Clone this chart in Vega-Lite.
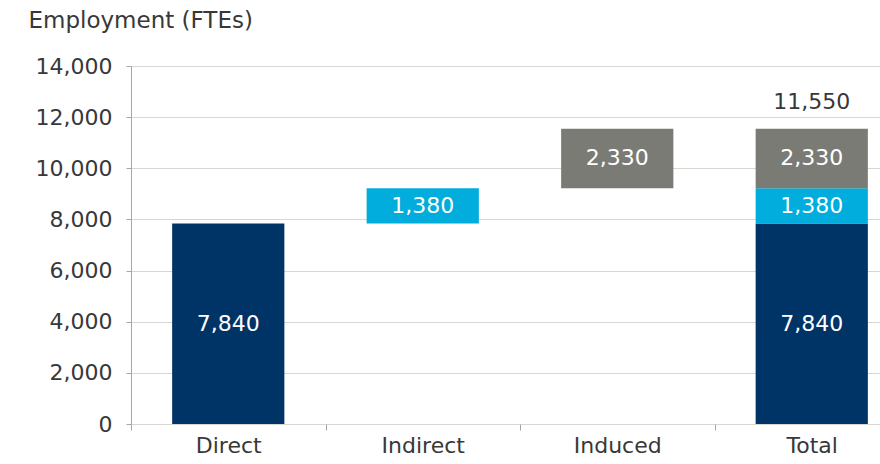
{
  "$schema": "https://vega.github.io/schema/vega-lite/v6.json",
  "width": 737,
  "height": 358,
  "autosize": {"type": "none"},
  "padding": {"left": 131, "top": 66, "right": 12, "bottom": 40},
  "background": "white",
  "config": {"view": {"stroke": null}, "font": "DejaVu Sans"},
  "data": {
    "values": [
      {"category": "Direct", "segment": "Direct", "start": 0, "end": 7840, "value": 7840},
      {"category": "Indirect", "segment": "Indirect", "start": 7840, "end": 9220, "value": 1380},
      {"category": "Induced", "segment": "Induced", "start": 9220, "end": 11550, "value": 2330},
      {"category": "Total", "segment": "Direct", "start": 0, "end": 7840, "value": 7840},
      {"category": "Total", "segment": "Indirect", "start": 7840, "end": 9220, "value": 1380},
      {"category": "Total", "segment": "Induced", "start": 9220, "end": 11550, "value": 2330}
    ]
  },
  "encoding": {
    "x": {
      "field": "category",
      "type": "nominal",
      "sort": null,
      "scale": {"domain": ["Direct", "Indirect", "Induced", "Total"], "range": [0, 778], "paddingInner": 0, "paddingOuter": 0},
      "axis": {
        "title": null,
        "labelAngle": 0,
        "domain": false,
        "tickBand": "extent",
        "ticks": true,
        "tickColor": "#a6a6a6",
        "tickSize": 6,
        "labelFontSize": 22,
        "labelColor": "#383838",
        "labelPadding": 5,
        "grid": false
      }
    }
  },
  "layer": [
    {
      "mark": {"type": "bar", "width": {"band": 0.577}},
      "encoding": {
        "y": {
          "field": "start",
          "type": "quantitative",
          "scale": {"domain": [0, 14000], "nice": false},
          "axis": {
            "values": [0, 2000, 4000, 6000, 8000, 10000, 12000, 14000],
            "format": ",.0f",
            "domain": true,
            "domainColor": "#a6a6a6",
            "tickColor": "#a6a6a6",
            "tickSize": 5,
            "gridColor": "#d9d5d0",
            "labelFontSize": 22,
            "labelColor": "#383838",
            "labelPadding": 14,
            "title": "Employment (FTEs)",
            "titleAngle": 0,
            "titleX": -103,
            "titleY": -46,
            "titleAlign": "left",
            "titleBaseline": "middle",
            "titleFontWeight": "normal",
            "titleFontSize": 23,
            "titleColor": "#383838"
          }
        },
        "y2": {"field": "end"},
        "color": {
          "field": "segment",
          "type": "nominal",
          "scale": {"domain": ["Direct", "Indirect", "Induced"], "range": ["#003466", "#00ADDC", "#7B7B76"]},
          "legend": null
        }
      }
    },
    {
      "mark": {"type": "rule", "color": "#a6a6a6", "strokeWidth": 1},
      "encoding": {"y": {"datum": 0, "type": "quantitative"}}
    },
    {
      "transform": [{"calculate": "(datum.start + datum.end) / 2", "as": "mid"}],
      "mark": {"type": "text", "color": "white", "fontSize": 22, "baseline": "middle"},
      "encoding": {
        "y": {"field": "mid", "type": "quantitative"},
        "text": {"field": "value", "type": "quantitative", "format": ",.0f"}
      }
    },
    {
      "transform": [{"filter": "datum.category === 'Total' && datum.segment === 'Induced'"}],
      "mark": {"type": "text", "color": "#383838", "fontSize": 22, "baseline": "bottom", "dy": -15},
      "encoding": {
        "y": {"field": "end", "type": "quantitative"},
        "text": {"field": "end", "type": "quantitative", "format": ",.0f"}
      }
    }
  ]
}
